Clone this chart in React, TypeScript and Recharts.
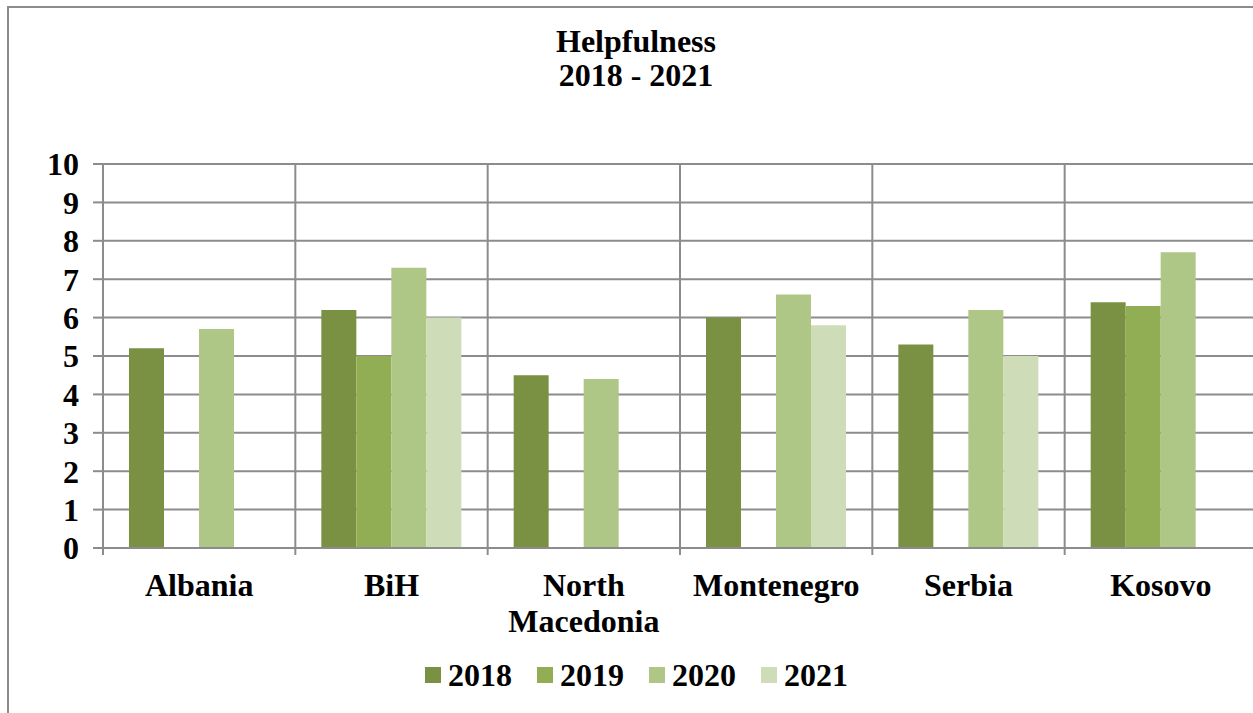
import React from 'react';
import { BarChart, Bar, XAxis, YAxis, CartesianGrid, Legend } from 'recharts';

const categories = ['Albania', 'BiH', 'North Macedonia', 'Montenegro', 'Serbia', 'Kosovo'];
const years = ['2018', '2019', '2020', '2021'];
const v2018 = [5.2, 6.2, 4.5, 6.0, 5.3, 6.4];
const v2019 = [null, 5.0, null, null, null, 6.3];
const v2020 = [5.7, 7.3, 4.4, 6.6, 6.2, 7.7];
const v2021 = [null, 6.0, null, 5.8, 5.0, null];
const yTicks = [0, 1, 2, 3, 4, 5, 6, 7, 8, 9, 10];
const colors = ['#7A9143', '#92AE55', '#AEC686', '#CFDCB8'];
const titleLines = ['Helpfulness', '2018 - 2021'];

const series = [v2018, v2019, v2020, v2021];
const data = categories.map((name, i) => {
  const row: any = { name };
  years.forEach((y, k) => { row[y] = series[k][i]; });
  return row;
});

const FONT = '"Liberation Serif", "Times New Roman", serif';
const GRID = '#8c8c8c';
const FS = 32;

const CatTick = (props: any) => {
  const { x, y, payload } = props;
  const off = payload && payload.offset ? payload.offset : 0;
  const words = String(payload.value).split(' ');
  return (
    <g>
      <line x1={x - off} x2={x - off} y1={y} y2={y + 7} stroke={GRID} strokeWidth={2} />
      {words.map((w, i) => (
        <text key={i} x={x} y={y + 37 + i * 36} dy="0.355em" textAnchor="middle"
          fontFamily={FONT} fontWeight="bold" fontSize={FS} fill="#000">{w}</text>
      ))}
    </g>
  );
};

const LegendContent = (props: any) => {
  const payload = props.payload || [];
  return (
    <div style={{ display: 'flex', justifyContent: 'center', alignItems: 'center', height: 40, paddingLeft: 9 }}>
      {payload.map((p: any, i: number) => (
        <div key={i} style={{ display: 'flex', alignItems: 'center', marginRight: i < payload.length - 1 ? 25 : 0 }}>
          <div style={{ width: 16, height: 16, background: p.color, marginRight: 7 }} />
          <span style={{ fontFamily: FONT, fontWeight: 'bold', fontSize: FS, color: '#000', lineHeight: '40px' }}>{p.value}</span>
        </div>
      ))}
    </div>
  );
};

export default function App() {
  return (
    <div style={{ position: 'fixed', left: 0, top: 0, width: 1253, height: 713, overflow: 'hidden', background: '#fff' }}>
      <div style={{ position: 'absolute', left: 7, top: 6, width: 1254, height: 720, borderLeft: `2px solid ${GRID}`, borderTop: `2px solid ${GRID}`, boxSizing: 'border-box' }}>
        <div style={{ position: 'absolute', left: 0, top: 0, width: 1254 }}>
          <BarChart width={1254} height={707} data={data}
            margin={{ top: 156, right: 6, left: -2, bottom: 20 }}
            barCategoryGap={26} barGap={0}>
            <CartesianGrid stroke={GRID} strokeWidth={2}
              verticalCoordinatesGenerator={({ offset }: any) =>
                Array.from({ length: categories.length + 1 }, (_, i) => offset.left + (i * offset.width) / categories.length)} />
            <XAxis dataKey="name" height={107} tickSize={0} tickMargin={0} interval={0}
              axisLine={{ stroke: GRID, strokeWidth: 2 }} tickLine={false} tick={<CatTick />} />
            <YAxis domain={[0, 10]} ticks={yTicks} interval={0} width={96} axisLine={false}
              tickSize={10} tickMargin={14} tickLine={{ stroke: GRID, strokeWidth: 2 }}
              tick={{ fontFamily: FONT, fontWeight: 'bold', fontSize: FS, fill: '#000' }} />
            <Legend verticalAlign="bottom" height={40} content={<LegendContent />} />
            {years.map((y, k) => (
              <Bar key={y} dataKey={y} name={y} fill={colors[k]} isAnimationActive={false} />
            ))}
          </BarChart>
        </div>
        <div style={{ position: 'absolute', left: 0, top: 16, width: 1254, textAlign: 'center', fontFamily: FONT, fontWeight: 'bold', fontSize: FS, lineHeight: '34px', color: '#000' }}>
          {titleLines.map((t, i) => <div key={i}>{t}</div>)}
        </div>
      </div>
    </div>
  );
}
